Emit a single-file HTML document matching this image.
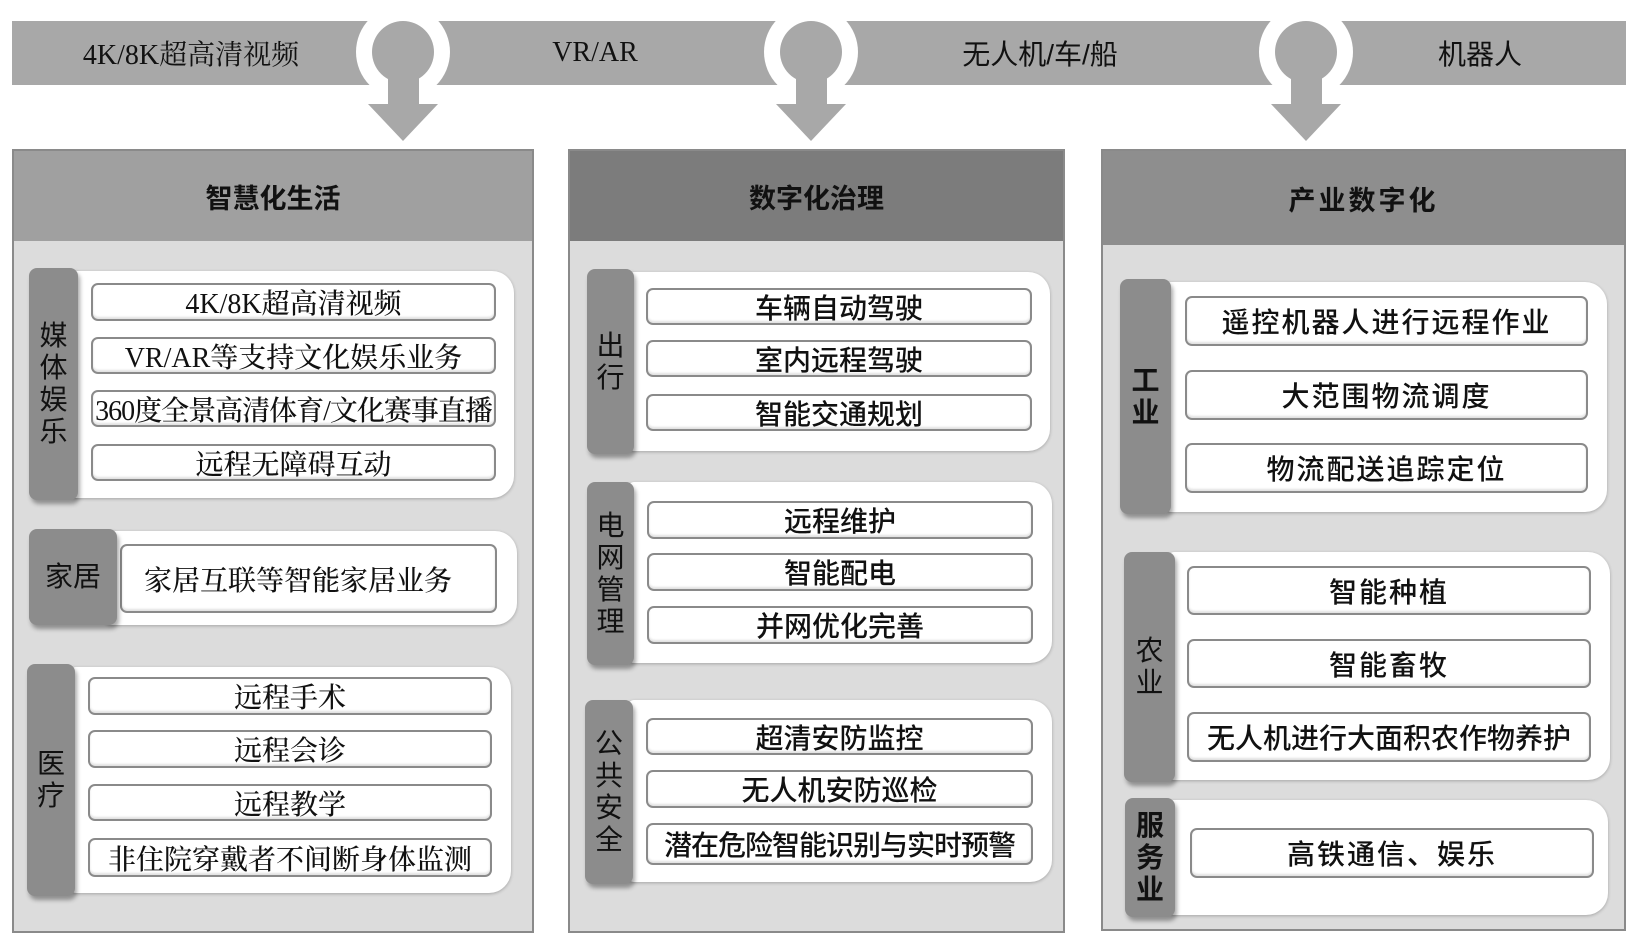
<!DOCTYPE html>
<html><head><meta charset="utf-8"><style>
body{margin:0;width:1634px;height:942px;background:#fff;position:relative;overflow:hidden;font-family:"Liberation Serif","Noto Serif CJK SC",serif;}
div{position:absolute;box-sizing:border-box;}
.panel{background:#dcdcdc;border:2px solid #8a8a8a;}
.hdr{left:0;right:0;top:0;height:90px;background:#a0a0a0;font:bold 27px "Liberation Sans","Noto Sans CJK SC",sans-serif;color:#111;display:flex;align-items:center;justify-content:center;}
.tab{background:#8c8c8c;border-radius:8px;box-shadow:2px 4px 4px rgba(0,0,0,.35);font:28px "Liberation Sans","Noto Sans CJK SC",sans-serif;color:#111;display:flex;align-items:center;justify-content:center;line-height:32px;text-align:center;z-index:2;}
.wh{background:#fff;border-radius:6px 22px 22px 6px;box-shadow:0 1px 3px rgba(0,0,0,.25);}
.it{background:#fff;border:2px solid #8a8a8a;border-radius:7px;box-shadow:inset 0 -2px 2px rgba(0,0,0,.12);display:flex;align-items:center;justify-content:center;font-size:28px;color:#111;white-space:nowrap;overflow:hidden;font-weight:500;}
.s .it{font-family:"Liberation Sans","Noto Sans CJK SC",sans-serif;font-size:28px;}
.r .it{font-family:"Liberation Sans","Noto Sans CJK SC",sans-serif;letter-spacing:2px;font-size:28px;}
.bar{font-size:28px;color:#111;display:flex;align-items:center;justify-content:center;}
</style></head><body>
<div style="left:12px;top:21px;width:1614px;height:64px;background:#a8a8a8;"></div>
<svg style="position:absolute;left:0;top:0" width="1634" height="160">
<g fill="#a8a8a8">
<circle cx="403" cy="52" r="47" fill="#fff"/><circle cx="403" cy="52" r="31"/><rect x="388" y="60" width="31" height="46"/><polygon points="368,104 438,104 403,141"/>
<circle cx="811" cy="52" r="47" fill="#fff"/><circle cx="811" cy="52" r="31"/><rect x="796" y="60" width="31" height="46"/><polygon points="776,104 846,104 811,141"/>
<circle cx="1306" cy="52" r="47" fill="#fff"/><circle cx="1306" cy="52" r="31"/><rect x="1291" y="60" width="31" height="46"/><polygon points="1271,104 1341,104 1306,141"/>
</g></svg>
<div class="bar" style="left:50px;top:21px;width:282px;height:64px;">4K/8K超高清视频</div>
<div class="bar" style="left:495px;top:21px;width:200px;height:64px;">VR/AR</div>
<div class="bar" style="left:900px;top:21px;width:280px;height:64px;font-family:'Liberation Sans','Noto Sans CJK SC',sans-serif;">无人机/车/船</div>
<div class="bar" style="left:1380px;top:21px;width:200px;height:64px;font-family:'Liberation Sans','Noto Sans CJK SC',sans-serif;">机器人</div>

<div class="panel" style="left:12px;top:149px;width:522px;height:784px;"><div class="hdr">智慧化生活</div></div>
<div class="wh" style="left:70px;top:271px;width:444px;height:227px;"></div>
<div class="tab" style="left:29px;top:268px;width:49px;height:232px;">媒<br>体<br>娱<br>乐</div>
<div class="it" style="left:91px;top:283px;width:405px;height:38px;">4K/8K超高清视频</div>
<div class="it" style="left:91px;top:337px;width:405px;height:37px;">VR/AR等支持文化娱乐业务</div>
<div class="it" style="left:91px;top:390px;width:405px;height:37px;letter-spacing:-1px;">360度全景高清体育/文化赛事直播</div>
<div class="it" style="left:91px;top:444px;width:405px;height:37px;">远程无障碍互动</div>
<div class="wh" style="left:105px;top:531px;width:412px;height:94px;"></div>
<div class="tab" style="left:29px;top:529px;width:88px;height:96px;">家居</div>
<div class="it" style="left:120px;top:544px;width:377px;height:69px;justify-content:flex-start;padding-left:22px;">家居互联等智能家居业务</div>
<div class="wh" style="left:70px;top:667px;width:441px;height:226px;"></div>
<div class="tab" style="left:27px;top:664px;width:48px;height:232px;">医<br>疗</div>
<div class="it" style="left:88px;top:677px;width:404px;height:38px;">远程手术</div>
<div class="it" style="left:88px;top:730px;width:404px;height:38px;">远程会诊</div>
<div class="it" style="left:88px;top:784px;width:404px;height:37px;">远程教学</div>
<div class="it" style="left:88px;top:838px;width:404px;height:39px;">非住院穿戴者不间断身体监测</div>

<div class="panel s" style="left:568px;top:149px;width:497px;height:784px;"><div class="hdr" style="background:#7c7c7c;">数字化治理</div></div>
<div class="s">
<div class="wh" style="left:628px;top:272px;width:422px;height:179px;"></div>
<div class="tab" style="left:587px;top:269px;width:47px;height:185px;">出<br>行</div>
<div class="it" style="left:646px;top:288px;width:386px;height:37px;">车辆自动驾驶</div>
<div class="it" style="left:646px;top:340px;width:386px;height:37px;">室内远程驾驶</div>
<div class="it" style="left:646px;top:394px;width:386px;height:37px;">智能交通规划</div>
<div class="wh" style="left:628px;top:482px;width:424px;height:181px;"></div>
<div class="tab" style="left:587px;top:482px;width:47px;height:183px;">电<br>网<br>管<br>理</div>
<div class="it" style="left:647px;top:501px;width:386px;height:38px;">远程维护</div>
<div class="it" style="left:647px;top:553px;width:386px;height:38px;">智能配电</div>
<div class="it" style="left:647px;top:606px;width:386px;height:38px;">并网优化完善</div>
<div class="wh" style="left:628px;top:700px;width:424px;height:182px;"></div>
<div class="tab" style="left:585px;top:700px;width:48px;height:184px;">公<br>共<br>安<br>全</div>
<div class="it" style="left:646px;top:718px;width:387px;height:37px;">超清安防监控</div>
<div class="it" style="left:646px;top:770px;width:387px;height:38px;">无人机安防巡检</div>
<div class="it" style="left:646px;top:823px;width:387px;height:42px;letter-spacing:-1px;">潜在危险智能识别与实时预警</div>
</div>

<div class="panel" style="left:1101px;top:149px;width:525px;height:782px;"><div class="hdr" style="height:94px;background:#8e8e8e;letter-spacing:3px;">产业数字化</div></div>
<div class="r">
<div class="wh" style="left:1165px;top:282px;width:442px;height:230px;"></div>
<div class="tab" style="left:1120px;top:279px;width:51px;height:235px;font-weight:bold;">工<br>业</div>
<div class="it" style="left:1185px;top:296px;width:403px;height:50px;">遥控机器人进行远程作业</div>
<div class="it" style="left:1185px;top:370px;width:403px;height:50px;">大范围物流调度</div>
<div class="it" style="left:1185px;top:443px;width:403px;height:50px;">物流配送追踪定位</div>
<div class="wh" style="left:1168px;top:552px;width:442px;height:228px;"></div>
<div class="tab" style="left:1124px;top:552px;width:51px;height:230px;">农<br>业</div>
<div class="it" style="left:1187px;top:566px;width:404px;height:49px;">智能种植</div>
<div class="it" style="left:1187px;top:639px;width:404px;height:49px;">智能畜牧</div>
<div class="it" style="left:1187px;top:712px;width:404px;height:50px;letter-spacing:0px;">无人机进行大面积农作物养护</div>
<div class="wh" style="left:1168px;top:800px;width:440px;height:115px;"></div>
<div class="tab" style="left:1125px;top:798px;width:50px;height:119px;font-weight:bold;">服<br>务<br>业</div>
<div class="it" style="left:1190px;top:828px;width:404px;height:50px;">高铁通信、娱乐</div>
</div>
</body></html>
